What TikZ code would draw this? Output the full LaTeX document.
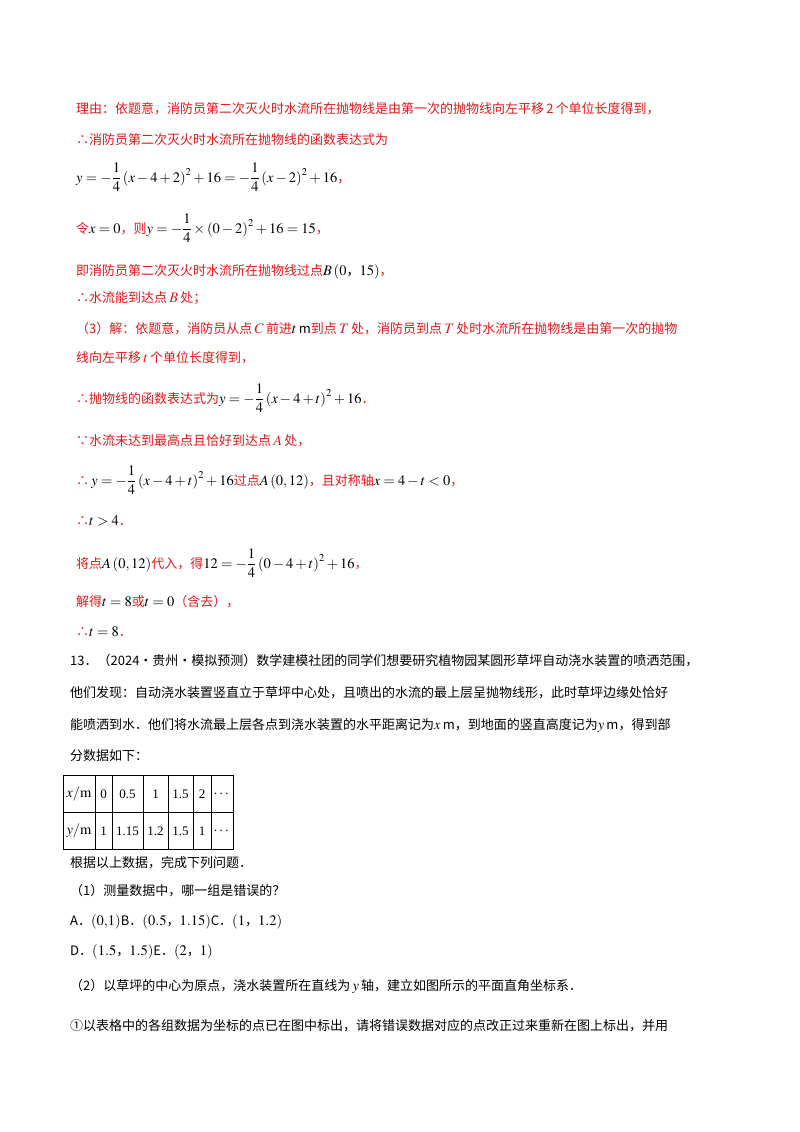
\documentclass[tikz,border=0pt]{standalone}
\usepackage{amsmath}
\usepackage{mathptmx}
\usepackage{fontspec}
\setmainfont{Noto Sans CJK SC}
\newfontfamily\lat{Liberation Serif}
\DeclareMathSizes{13}{14.5}{10.5}{8}
\definecolor{rd}{RGB}{225,25,25}
\begin{document}
\begin{tikzpicture}[x=1pt,y=-1pt,
  ln/.style={anchor=base west,inner sep=0pt,font=\fontsize{13}{15}\selectfont},
  r/.style={ln,text=rd}]
\useasboundingbox[fill=white] (0,0) rectangle (800,1132);
\node[r] (l1) at (76,113) {理由：依题意，消防员第二次灭火时水流所在抛物线是由第一次的抛物线向左平移\,2\,个单位长度得到，};
\node[r] (l2) at (76,144) {∴消防员第二次灭火时水流所在抛物线的函数表达式为};
\node[ln] (l3) at (76,182) {$y=-\dfrac{1}{4}\left(x-4+2\right)^2+16=-\dfrac{1}{4}\left(x-2\right)^2+16$\textcolor{rd}{，}};
\node[ln] (l4) at (76,233) {\textcolor{rd}{令}$x=0$\textcolor{rd}{，则}$y=-\dfrac{1}{4}\times\left(0-2\right)^2+16=15$\textcolor{rd}{，}};
\node[r] (l5) at (76,275) {即消防员第二次灭火时水流所在抛物线过点\textcolor{black}{$B\left(0\text{，}15\right)$}，};
\node[r] (l6) at (76,302) {∴水流能到达点\,$B$\,处；};
\node[r] (l7) at (76,333) {（3）解：依题意，消防员从点\,$C$\,前进\textcolor{black}{$t$\,m}到点\,$T$\,处，消防员到点\,$T$\,处时水流所在抛物线是由第一次的抛物};
\node[r] (l8) at (76,362) {线向左平移\,$t$\,个单位长度得到，};
\node[r] (l9) at (76,403) {∴抛物线的函数表达式为\textcolor{black}{$y=-\dfrac{1}{4}\left(x-4+t\right)^2+16$}．};
\node[r] (l10) at (76,445) {∵水流未达到最高点且恰好到达点\,$A$\,处，};
\node[r] (l11) at (76,485) {∴\textcolor{black}{\,$y=-\dfrac{1}{4}\left(x-4+t\right)^2+16$}过点\textcolor{black}{$A\left(0,12\right)$}，且对称轴\textcolor{black}{$x=4-t<0$}，};
\node[r] (l12) at (76,525) {∴\textcolor{black}{$t>4$}．};
\node[r] (l13) at (76,568) {将点\textcolor{black}{$A\left(0,12\right)$}代入，得\textcolor{black}{$12=-\dfrac{1}{4}\left(0-4+t\right)^2+16$}，};
\node[r] (l14) at (76,606) {解得\textcolor{black}{$t=8$}或\textcolor{black}{$t=0$}（含去），};
\node[r] (l15) at (76,636) {∴\textcolor{black}{$t=8$}．};
\node[ln] (l16) at (70,665) {13．（2024·贵州·模拟预测）数学建模社团的同学们想要研究植物园某圆形草坪自动浇水装置的喷洒范围，};
\node[ln] (l17) at (70,697) {他们发现：自动浇水装置竖直立于草坪中心处，且喷出的水流的最上层呈抛物线形，此时草坪边缘处恰好};
\node[ln] (l18) at (70,729) {能喷洒到水．他们将水流最上层各点到浇水装置的水平距离记为$x$\,m，到地面的竖直高度记为$y$\,m，得到部};
\node[ln] (l19) at (70,760) {分数据如下：};
% table
\draw[line width=0.9pt] (63,775) rectangle (233,849);
\draw[line width=0.9pt] (63,812) -- (233,812);
\foreach \c in {95,112,143,168,193,211} \draw[line width=0.9pt] (\c,775) -- (\c,849);
\foreach \t/\x in {{$x/\mathrm{m}$}/79,0/103.5,0.5/127.5,1/155.5,1.5/180.5,2/202,$\cdots$/222}
  \node[font=\fontsize{13}{15}\selectfont\lat,inner sep=0pt] at (\x,794) {\t};
\foreach \t/\x in {{$y/\mathrm{m}$}/79,1/103.5,1.15/127.5,1.2/155.5,1.5/180.5,1/202,$\cdots$/222}
  \node[font=\fontsize{13}{15}\selectfont\lat,inner sep=0pt] at (\x,831) {\t};
\node[ln] (l20) at (70,867) {根据以上数据，完成下列问题．};
\node[ln] (l21) at (70,895) {（1）测量数据中，哪一组是错误的？};
\node[ln] (l22) at (70,925) {A．$\left(0{,}1\right)$B．$\left(0.5\text{，}1.15\right)$C．$\left(1\text{，}1.2\right)$};
\node[ln] (l23) at (70,955) {D．$\left(1.5\text{，}1.5\right)$E．$\left(2\text{，}1\right)$};
\node[ln] (l24) at (70,990) {（2）以草坪的中心为原点，浇水装置所在直线为\,$y$\,轴，建立如图所示的平面直角坐标系．};
\node[ln] (l25) at (70,1030) {①以表格中的各组数据为坐标的点已在图中标出，请将错误数据对应的点改正过来重新在图上标出，并用};
\end{tikzpicture}
\end{document}
